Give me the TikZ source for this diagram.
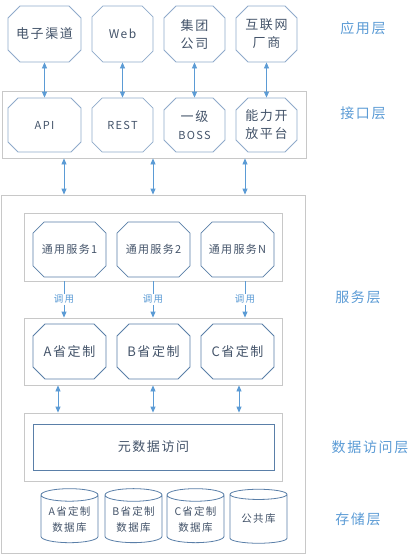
\documentclass[tikz,border=0pt]{standalone}
\usepackage{fontspec}
\setmainfont{Noto Sans CJK SC}[LetterSpace=12]
\usetikzlibrary{shapes.misc,shapes.geometric,arrows.meta,shadows}
\definecolor{txt}{HTML}{44546A}
\definecolor{bdlight}{HTML}{8FAACB}
\definecolor{bddark}{HTML}{5A7FA8}
\definecolor{arr}{HTML}{5B9BD5}
\definecolor{cont}{HTML}{C8C8C8}
\tikzset{
  chamf/.style={chamfered rectangle, chamfered rectangle xsep=6pt, chamfered rectangle ysep=6pt,
    draw=#1, line width=0.8pt, inner sep=0pt, text=txt, align=center, fill=white},
  contbox/.style={draw=cont, line width=0.8pt, fill=white, inner sep=0pt,
    drop shadow={shadow xshift=1pt, shadow yshift=-1pt, opacity=0.15}},
  layer/.style={text=arr, font=\fontsize{14}{16}\selectfont},
  biarr/.style={{Triangle[width=5pt,length=6pt]}-{Triangle[width=5pt,length=6pt]}, draw=arr, line width=0.8pt},
  onearr/.style={-{Triangle[width=5pt,length=6pt]}, draw=arr, line width=0.8pt},
  cyl/.style={cylinder, shape border rotate=90, aspect=0.3, draw=bddark, line width=0.8pt,
    minimum width=57pt, minimum height=54pt, inner sep=0pt, text=txt, align=center,
    font=\fontsize{10.5}{16}\selectfont}
}
\begin{document}
\begin{tikzpicture}[x=1pt,y=-1pt]
\useasboundingbox (0,0) rectangle (413,558);
% application layer
\node[chamf=bdlight, minimum width=73pt, minimum height=56pt, font=\fontsize{13}{18}\selectfont] (a1) at (44.5,34) {电子渠道};
\node[chamf=bdlight, minimum width=61pt, minimum height=56pt, font=\fontsize{12}{18}\selectfont] (a2) at (122.5,34) {Web};
\node[chamf=bdlight, minimum width=61pt, minimum height=56pt, font=\fontsize{13}{18}\selectfont] (a3) at (194.5,34) {集团\\公司};
\node[chamf=bdlight, minimum width=61pt, minimum height=56pt, font=\fontsize{13}{18}\selectfont] (a4) at (266.5,34) {互联网\\厂商};
% interface layer
\node[contbox, minimum width=304pt, minimum height=67pt] (iface) at (154,124.5) {};
\node[chamf=bdlight, minimum width=73pt, minimum height=54pt, font=\fontsize{11}{18}\selectfont] (b1) at (44.5,125) {API};
\node[chamf=bdlight, minimum width=61pt, minimum height=54pt, font=\fontsize{11}{18}\selectfont] (b2) at (122.5,125) {REST};
\node[chamf=bdlight, minimum width=61pt, minimum height=54pt, font=\fontsize{13}{18}\selectfont] (b3) at (194.5,125) {一级\\{\fontsize{11}{16}\selectfont BOSS}};
\node[chamf=bdlight, minimum width=61pt, minimum height=54pt, font=\fontsize{13}{18}\selectfont] (b4) at (266.5,125) {能力开\\放平台};
\foreach \i in {1,...,4}{\draw[biarr] (a\i.south) -- (b\i.north);}
% service layer
\node[contbox, minimum width=304pt, minimum height=358pt] (svc) at (153,374) {};
\node[contbox, minimum width=258pt, minimum height=68pt] (g1) at (153,247) {};
\node[chamf=bddark, minimum width=73pt, minimum height=55pt, font=\fontsize{11}{16}\selectfont] (s1) at (69.5,249.5) {通用服务1};
\node[chamf=bddark, minimum width=73pt, minimum height=55pt, font=\fontsize{11}{16}\selectfont] (s2) at (153.5,249.5) {通用服务2};
\node[chamf=bddark, minimum width=73pt, minimum height=55pt, font=\fontsize{11}{16}\selectfont] (s3) at (237.5,249.5) {通用服务N};
\node[contbox, minimum width=258pt, minimum height=67pt] (g2) at (153,351.5) {};
\node[chamf=bddark, minimum width=73pt, minimum height=55pt, font=\fontsize{13}{16}\selectfont] (c1) at (69.5,351.5) {A省定制};
\node[chamf=bddark, minimum width=73pt, minimum height=55pt, font=\fontsize{13}{16}\selectfont] (c2) at (153.5,351.5) {B省定制};
\node[chamf=bddark, minimum width=73pt, minimum height=55pt, font=\fontsize{13}{16}\selectfont] (c3) at (237.5,351.5) {C省定制};
\coordinate (x1) at (64,0);
\coordinate (x2) at (153,0);
\coordinate (x3) at (245,0);
\coordinate (y1) at (58,0);
\coordinate (y2) at (153,0);
\coordinate (y3) at (239,0);
\foreach \i in {1,2,3}{
  \draw[biarr] (iface.south -| x\i) -- (svc.north -| x\i);
  \draw[onearr] (g1.south -| x\i) -- node[fill=white, inner sep=1pt, text=arr, font=\fontsize{9.5}{11}\selectfont] {调用} (g2.north -| x\i);
}
% data access
\node[contbox, minimum width=258pt, minimum height=68pt] (dal) at (153,447) {};
\node[draw=bddark, line width=0.8pt, minimum width=241pt, minimum height=46pt, inner sep=0pt, text=txt, font=\fontsize{13}{16}\selectfont] (meta) at (153.5,447) {元数据访问};
\foreach \i in {1,2,3}{\draw[biarr] (g2.south -| y\i) -- (dal.north -| y\i);}
% storage
\node[cyl] (d1) at (69.5,519) {A省定制\\数据库};
\node[cyl] (d2) at (133.5,519) {B省定制\\数据库};
\node[cyl] (d3) at (195.5,519) {C省定制\\数据库};
\node[cyl] (d4) at (258.5,519) {公共库};
% layer labels
\node[layer] (l1) at (363,28) {应用层};
\node[layer] (l2) at (363,113) {接口层};
\node[layer] (l3) at (358,297) {服务层};
\node[layer] (l4) at (370,447) {数据访问层};
\node[layer] (l5) at (358,519) {存储层};
\end{tikzpicture}
\end{document}
